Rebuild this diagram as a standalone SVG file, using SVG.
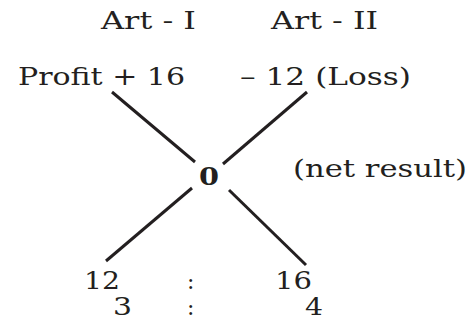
<svg xmlns="http://www.w3.org/2000/svg" width="469" height="322" viewBox="0 0 469 322">
<style>
text{font-family:"DejaVu Serif","Liberation Serif",serif;font-size:24px;fill:#231f20}
.d{font-size:25px}
.k{font-size:22px}
.b{font-weight:bold}
.c line{stroke:#231f20;stroke-width:3;stroke-linecap:butt}
</style>
<rect width="469" height="322" fill="#fff"/>
<g id="art1"><text x="101" y="29" textLength="95" lengthAdjust="spacingAndGlyphs">Art - I</text></g>
<g id="art2"><text x="271" y="29" textLength="107" lengthAdjust="spacingAndGlyphs">Art - II</text></g>
<g id="profit"><text x="18" y="85" textLength="167" lengthAdjust="spacingAndGlyphs">Profit + 16</text></g>
<g id="loss"><text x="240" y="85" textLength="171" lengthAdjust="spacingAndGlyphs">– 12 (Loss)</text></g>
<g id="center"><text class="b" x="199" y="185" textLength="20" lengthAdjust="spacingAndGlyphs">0</text></g>
<g id="net"><text x="293" y="177" textLength="174" lengthAdjust="spacingAndGlyphs">(net result)</text></g>
<g id="ratio1">
<text class="d" x="84" y="289" textLength="36" lengthAdjust="spacingAndGlyphs">12</text>
<text class="k" x="187" y="289">:</text>
<text class="d" x="275" y="289" textLength="37" lengthAdjust="spacingAndGlyphs">16</text>
</g>
<g id="ratio2">
<text class="d" x="113" y="315" textLength="19" lengthAdjust="spacingAndGlyphs">3</text>
<text class="k" x="187" y="315">:</text>
<text class="d" x="305" y="315" textLength="18" lengthAdjust="spacingAndGlyphs">4</text>
</g>
<g id="connectors" class="c">
<line x1="112" y1="92" x2="195" y2="162"/>
<line x1="307" y1="92" x2="223" y2="164"/>
<line x1="192" y1="188" x2="106" y2="261"/>
<line x1="229" y1="190" x2="306" y2="265"/>
</g>
</svg>
